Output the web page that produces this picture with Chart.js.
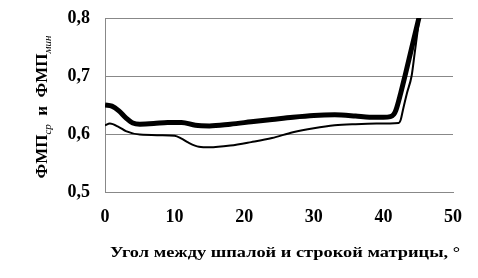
<!DOCTYPE html>
<html>
<head>
<meta charset="utf-8">
<script src="https://cdn.jsdelivr.net/npm/chart.js@4/dist/chart.umd.min.js"></script>
<style>
  html, body { margin: 0; padding: 0; background: #fff; }
  #wrap { width: 478px; height: 278px; }
</style>
</head>
<body>
<div id="wrap"><canvas id="myChart"></canvas></div>
<script>
// angle between sleeper and matrix row, degrees
let avgAngle = [0, 1, 2, 3, 4, 5, 7, 9, 11, 13, 15, 18, 21, 24, 27, 30, 33, 36, 38, 40, 41, 41.5, 41.8, 42.5, 43.1, 44, 45.1, 45.4];
let avgValue = [0.650, 0.648, 0.640, 0.628, 0.619, 0.617, 0.618, 0.620, 0.620, 0.615, 0.614, 0.617, 0.621, 0.625, 0.629, 0.632, 0.633, 0.631, 0.629, 0.629, 0.630, 0.634, 0.641, 0.671, 0.700, 0.745, 0.800, 0.815];

let minAngle = [0, 0.7, 2, 3, 5, 8, 10, 11, 12, 13.5, 15, 18, 21, 24, 27, 30, 33, 36, 39, 42.2, 42.5, 42.8, 43.4, 44.05, 44.5, 45, 45.3];
let minValue = [0.615, 0.618, 0.612, 0.605, 0.599, 0.598, 0.597, 0.592, 0.585, 0.578, 0.577, 0.580, 0.586, 0.593, 0.603, 0.610, 0.615, 0.617, 0.618, 0.619, 0.625, 0.641, 0.671, 0.700, 0.740, 0.785, 0.810];

let yTicks = [0.5, 0.6, 0.7, 0.8];
let xTicks = [0, 10, 20, 30, 40, 50];

function toPoints(xs, ys){
    let pts = [];
    for(let i = 0; i < xs.length; i++){
        pts.push({x: xs[i], y: ys[i]});
    }
    return pts;
}

// axis titles with subscripts
const axisTitles = {
    id: 'axisTitles',
    afterDraw(chart){
        const ctx = chart.ctx;
        ctx.save();
        ctx.fillStyle = '#000';

        // x title, stretched a bit like the source image
        ctx.font = 'bold 15px "Liberation Serif"';
        ctx.textAlign = 'center';
        ctx.textBaseline = 'alphabetic';
        const xt = 'Угол между шпалой и строкой матрицы, °';
        const w = ctx.measureText(xt).width;
        ctx.save();
        ctx.translate(285, 257);
        ctx.scale(350 / w, 1);
        ctx.fillText(xt, 0, 0);
        ctx.restore();

        // y title, rotated
        const parts = [
            {t: 'ФМП', f: 'bold 17px "Liberation Serif"', dy: 0},
            {t: 'ср', f: 'italic 11px "Liberation Serif"', dy: 4},
            {t: '  и  ', f: 'bold 17px "Liberation Serif"', dy: 0},
            {t: 'ФМП', f: 'bold 17px "Liberation Serif"', dy: 0},
            {t: 'мин', f: 'italic 11px "Liberation Serif"', dy: 4}
        ];
        let total = 0;
        parts.forEach(p => { ctx.font = p.f; p.w = ctx.measureText(p.t).width; total += p.w; });
        ctx.translate(47, 107);
        ctx.rotate(-Math.PI / 2);
        ctx.textAlign = 'left';
        let x = -total / 2;
        parts.forEach(p => {
            ctx.font = p.f;
            ctx.fillText(p.t, x, p.dy);
            x += p.w;
        });
        ctx.restore();
    }
};

var ctx = document.getElementById('myChart').getContext('2d');
var myChart = new Chart(ctx, {
    type: 'scatter',
    data: {
        datasets: [{
            label: 'ФМП ср',
            data: toPoints(avgAngle, avgValue),
            showLine: true,
            borderColor: '#000',
            borderWidth: 5,
            pointRadius: 0,
            cubicInterpolationMode: 'monotone',
            clip: 0
        }, {
            label: 'ФМП мин',
            data: toPoints(minAngle, minValue),
            showLine: true,
            borderColor: '#000',
            borderWidth: 2,
            pointRadius: 0,
            cubicInterpolationMode: 'monotone',
            clip: 0
        }]
    },
    options: {
        responsive: true,
        maintainAspectRatio: false,
        animation: false,
        layout: { padding: { left: 0, top: 18, right: 25, bottom: 0 } },
        plugins: {
            legend: { display: false },
            tooltip: { enabled: false }
        },
        scales: {
            x: {
                type: 'linear',
                min: 0,
                max: 50,
                afterBuildTicks: axis => { axis.ticks = xTicks.map(v => ({value: v})); },
                afterFit: axis => { axis.height = 86; axis.paddingLeft = 0; axis.paddingRight = 0; },
                grid: { display: false, drawTicks: false },
                border: { display: true, color: '#888', width: 1 },
                ticks: {
                    padding: 15,
                    color: '#000',
                    font: { family: 'Liberation Serif', size: 18, weight: 'bold' }
                }
            },
            y: {
                min: 0.5,
                max: 0.8,
                afterBuildTicks: axis => { axis.ticks = yTicks.map(v => ({value: v})); },
                afterFit: axis => { axis.width = 105; axis.paddingTop = 0; axis.paddingBottom = 0; },
                grid: { color: '#888', lineWidth: 1, drawTicks: false },
                border: { display: true, color: '#888', width: 1 },
                ticks: {
                    padding: 15,
                    color: '#000',
                    font: { family: 'Liberation Serif', size: 18, weight: 'bold' },
                    callback: v => v.toFixed(1).replace('.', ',')
                }
            }
        }
    },
    plugins: [axisTitles]
});
</script>
</body>
</html>
